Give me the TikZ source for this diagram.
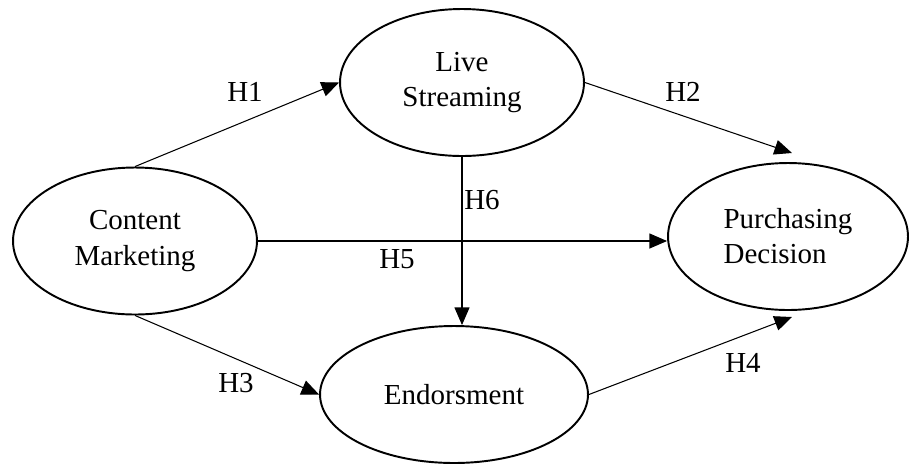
\documentclass[tikz,border=0pt]{standalone}
\usepackage{fontspec}
\setmainfont{Liberation Serif}
\usepackage{tikz}
\usetikzlibrary{shapes.geometric,arrows.meta}

\tikzset{
	construct/.style={draw, ellipse, line width=1.1pt, inner sep=0pt, align=center,
		minimum width=4.88cm, minimum height=2.94cm, font=\fontsize{16.5}{20}\selectfont},
	path/.style={line width=.6pt, -{Triangle[length=10pt, width=8.5pt]}},
	hyp/.style={font=\fontsize{16.5}{20}\selectfont}
}

\begin{document}
\begin{tikzpicture}[x=0.02cm, y=-0.02cm]
	\useasboundingbox (0, 0) rectangle (909, 464);
	% constructs
	\node[construct] (cm) at (135, 241) {Content\\Marketing};
	\node[construct] (ls) at (462, 82.5) {Live\\Streaming};
	\node[construct, minimum width=5.36cm, minimum height=2.74cm] (en) at (454, 394.5) {Endorsment};
	\node[construct, minimum width=4.8cm, align=left] (pd) at (788, 236.5) {Purchasing\\Decision};
	% free ends above and below the decision
	\coordinate (pdtop) at (792, 153);
	\coordinate (pdbot) at (792, 317);

	\draw[path] (cm.north) -- (ls.west);
	\draw[path] (ls.east) -- (pdtop);
	\draw[path] (cm.south) -- (en.west);
	\draw[path] (en.east) -- (pdbot);
	\draw[path] (cm.east) -- (cm.east -| pd.west);
	\draw[path] (ls.south) -- (ls.south |- en.north);

	\node[hyp] (h1) at (245, 92) {H1};
	\node[hyp] (h2) at (683, 92) {H2};
	\node[hyp] (h3) at (236, 383) {H3};
	\node[hyp] (h4) at (743, 363) {H4};
	\node[hyp] (h5) at (397, 259) {H5};
	\node[hyp] (h6) at (482, 200) {H6};
\end{tikzpicture}
\end{document}
